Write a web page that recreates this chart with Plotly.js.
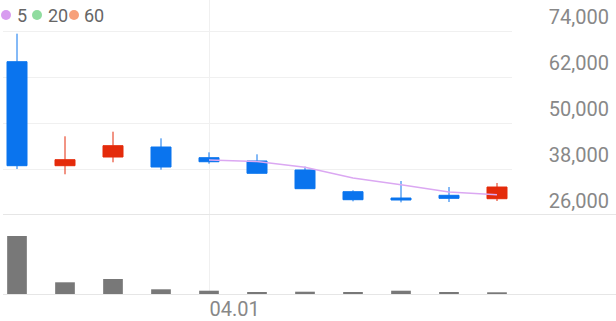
<!DOCTYPE html>
<html><head><meta charset="utf-8">
<script src="https://cdn.plot.ly/plotly-3.0.1.min.js"></script>
<style>html,body{margin:0;padding:0;background:#fff}#chart{width:616px;height:321px}</style>
</head><body><div id="chart"></div>
<script>
// ---- data ----
const idx = [0,1,2,3,4,5,6,7,8,9,10];
const openP  = [65990, 38860, 41130, 43740, 40950, 40090, 37740, 32080, 30430, 31140, 30250];
const highP  = [73300, 46530, 47730, 46000, 42350, 41830, 38600, 32440, 34870, 33300, 34350];
const lowP   = [38000, 36620, 39750, 37820, 39380, 36850, 32800, 29570, 29300, 29390, 29650];
const closeP = [38860, 40430, 44080, 38520, 39900, 36880, 32860, 29990, 29910, 30350, 33300];
const volume = [5800, 1170, 1500, 470, 330, 200, 230, 200, 330, 200, 170];
const ma5x = [4,5,6,7,8,9,10];
const ma5  = [40360, 39960, 38450, 35630, 33910, 32000, 31280];
const priceTicks = [26000, 38000, 50000, 62000, 74000];
const dateTickIdx = [4];
const dateTickText = ['04.01'];
const maLabels = ['5','20','60'];

// ---- style ----
const W = 616, H = 321;
const maColors = ['#d89cf0','#8fdc9f','#f7a07a'];
const UP = '#e42b0b', DOWN = '#0a74ee';
const FONT = 'Roboto, sans-serif';
const step = 48, firstC = 17;               // px per candle, px of first candle
const plotL = 3, priceR = 512, priceTop = 0, priceBot = 215, volBot = 294;
const pxPerUnit = 46/12000;
const toIdx = p => (p - firstC)/step;

const traces = [
  {type:'candlestick', x: idx, open: openP, high: highP, low: lowP, close: closeP,
   xaxis:'x', yaxis:'y', whiskerwidth:0, hoverinfo:'skip',
   increasing:{line:{color:UP, width:1}, fillcolor:UP},
   decreasing:{line:{color:DOWN, width:1}, fillcolor:DOWN}},
  {type:'scatter', mode:'lines', x: ma5x, y: ma5, xaxis:'x', yaxis:'y',
   line:{color:'#dba8f2', width:1.5}, hoverinfo:'skip'},
  {type:'bar', x: idx, y: volume, xaxis:'x2', yaxis:'y2', width:0.41,
   marker:{color:'#787878', line:{width:0}}, hoverinfo:'skip'}
];

const shapes = [], annotations = [];
const legX = [6, 37, 74], legTX = [16, 47, 83], legY = 15;
maLabels.forEach((lab, i) => {
  shapes.push({type:'circle', xref:'paper', yref:'paper', xsizemode:'pixel', ysizemode:'pixel',
    xanchor: legX[i]/W, yanchor: 1 - legY/H, x0:-5, x1:5, y0:-5, y1:5,
    fillcolor: maColors[i], line:{width:0}});
  annotations.push({xref:'paper', yref:'paper', x: (legTX[i]-1)/W, y: 1 - legY/H,
    xanchor:'left', yanchor:'middle', showarrow:false, text: lab,
    font:{family:FONT, size:18, color:'#666'}});
});

const layout = {
  width: W, height: H, margin:{l:0, r:0, t:0, b:0},
  paper_bgcolor:'#fff', plot_bgcolor:'rgba(0,0,0,0)', showlegend:false,
  boxgap:0.405,
  xaxis:{domain:[plotL/W, priceR/W], range:[toIdx(plotL), toIdx(priceR)], anchor:'y',
    tickvals: dateTickIdx, showticklabels:false, ticks:'', showgrid:true, gridcolor:'#f0f0f0',
    zeroline:false, showline:false, rangeslider:{visible:false}, fixedrange:true},
  yaxis:{domain:[1 - priceBot/H, 1 - priceTop/H],
    range:[26000, 26000 + (priceBot - priceTop)/pxPerUnit],
    anchor:'free', position: 612/W, side:'right',
    tickvals: priceTicks, tickformat:',d', ticks:'', ticklabelposition:'inside top',
    showgrid:true, gridcolor:'#f0f0f0', zeroline:false, showline:false,
    tickfont:{family:FONT, size:20, color:'#888'}, fixedrange:true},
  xaxis2:{domain:[plotL/W, 1], range:[toIdx(plotL), toIdx(W)], anchor:'y2',
    tickvals: dateTickIdx, ticktext: dateTickText, ticks:'', ticklen:0, ticklabelstandoff:-3,
    ticklabelposition:'outside right',
    showgrid:true, gridcolor:'#f0f0f0', zeroline:false, showline:true, linecolor:'#e6e6e6',
    mirror:true, tickfont:{family:FONT, size:20, color:'#888'}, fixedrange:true},
  yaxis2:{domain:[1 - volBot/H, 1 - priceBot/H], range:[0, 7900], anchor:'x2',
    showgrid:false, zeroline:false, showticklabels:false, ticks:'', fixedrange:true},
  shapes, annotations
};

Plotly.newPlot('chart', traces, layout, {staticPlot:true, displayModeBar:false});
</script></body></html>
